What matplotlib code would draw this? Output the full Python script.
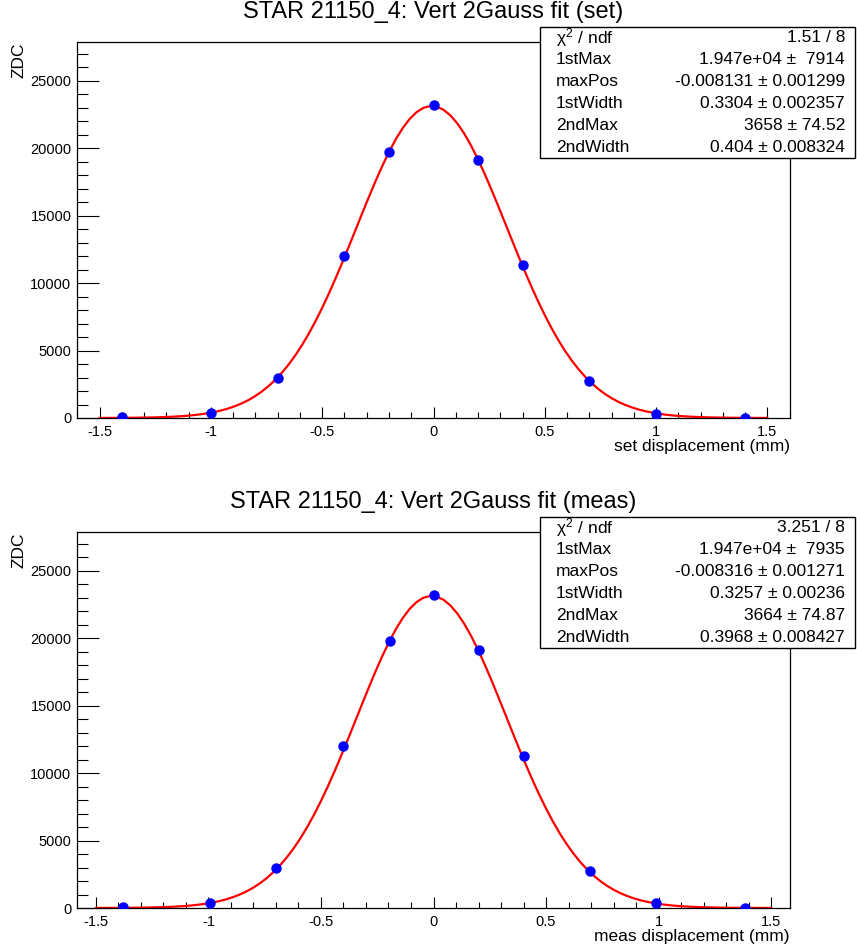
"""
STAR 21150_4 vertical van der Meer scan: double Gaussian fits of the ZDC rate
versus set and measured displacement, drawn in the style of a ROOT canvas.
"""

import numpy as np
import matplotlib

matplotlib.use("Agg")
import matplotlib.pyplot as plt
from matplotlib.patches import Rectangle
from matplotlib.ticker import MultipleLocator

plt.rcParams["font.family"] = ["Liberation Sans", "DejaVu Sans"]
plt.rcParams["mathtext.fontset"] = "custom"
plt.rcParams["mathtext.rm"] = "Liberation Sans"
plt.rcParams["mathtext.it"] = "Liberation Sans"

# data
set_x = [-1.4, -1.0, -0.7, -0.4, -0.2, 0.0, 0.2, 0.4, 0.7, 1.0, 1.4]
set_zdc = [40, 380, 3000, 12000, 19750, 23180, 19150, 11350, 2730, 330, 30]

meas_x = [-1.38, -0.995, -0.70, -0.40, -0.195, 0.0, 0.20, 0.40, 0.695, 0.99, 1.385]
meas_zdc = [40, 380, 2970, 12010, 19800, 23220, 19140, 11280, 2745, 340, 30]

# fit results: 1stMax, maxPos, 1stWidth, 2ndMax, 2ndWidth
par_names = ["1stMax", "maxPos", "1stWidth", "2ndMax", "2ndWidth"]
set_par = [1.947e04, -0.008131, 0.3304, 3658, 0.404]
set_err = [7914, 0.001299, 0.002357, 74.52, 0.008324]
set_chi2 = [1.51, 8]
meas_par = [1.947e04, -0.008316, 0.3257, 3664, 0.3968]
meas_err = [7935, 0.001271, 0.00236, 74.87, 0.008427]
meas_chi2 = [3.251, 8]

W, H = 857, 951


def px(x, y):
    """Pixel position (from top left) to figure fraction."""
    return x / W, 1 - y / H


def two_gauss(x, p):
    """Double Gaussian with a common mean."""
    a1, mu, s1, a2, s2 = p
    return a1 * np.exp(-0.5 * ((x - mu) / s1) ** 2) + a2 * np.exp(-0.5 * ((x - mu) / s2) ** 2)


def stat_box(fig, top, chi2, par, err):
    """ROOT style statistics box."""
    x0, x1 = 540, 855
    bottom = top + 131
    fx, fy = px(x0, bottom)
    fig.patches.append(Rectangle((fx, fy), (x1 - x0) / W, 131 / H, transform=fig.transFigure,
                                 facecolor="white", edgecolor="black", linewidth=1.0, zorder=10))
    rows = [(r"$\chi^2$ / ndf", "%.4g / %d" % (chi2[0], chi2[1]))]
    for name, p, e in zip(par_names, par, err):
        rows.append((name, "%.4g ± %5.4g" % (p, e)))
    step = 131 / 6
    for i, (lab, val) in enumerate(rows):
        yc = top + step * (i + 0.5)
        fig.text(*px(556, yc), lab, ha="left", va="center", fontsize=12.5, zorder=11)
        fig.text(*px(845, yc), val, ha="right", va="center", fontsize=12.5, zorder=11)


def panel(fig, top, xdata, ydata, par, err, chi2, xlim, title, xlabel):
    """Draw one graph with its fit."""
    left, bottom = px(77, top + 376)
    ax = fig.add_axes([left, bottom, 713 / W, 376 / H])
    xs = np.linspace(-1.5, 1.5, 100)
    ax.plot(xs, two_gauss(xs, par), color="red", linewidth=1.6, zorder=2)
    ax.plot(xdata, ydata, "o", color="blue", markersize=6.5, zorder=3)
    ax.set_xlim(*xlim)
    ax.set_ylim(0, 27870)
    ax.xaxis.set_major_locator(MultipleLocator(0.5))
    ax.xaxis.set_minor_locator(MultipleLocator(0.1))
    ax.yaxis.set_major_locator(MultipleLocator(5000))
    ax.yaxis.set_minor_locator(MultipleLocator(1000))
    ax.xaxis.set_major_formatter(plt.FuncFormatter(lambda v, _: "%g" % round(v, 2)))
    ax.yaxis.set_major_formatter(plt.FuncFormatter(lambda v, _: "%d" % v))
    ax.tick_params(axis="x", which="major", direction="in", length=8, width=0.8, labelsize=10.5, pad=5)
    ax.tick_params(axis="x", which="minor", direction="in", length=4, width=0.8)
    ax.tick_params(axis="y", which="major", direction="in", length=16, width=0.8, labelsize=10.5, pad=4)
    ax.tick_params(axis="y", which="minor", direction="in", length=8, width=0.8)
    for s in ax.spines.values():
        s.set_linewidth(0.9)
    ax.text(1.0, -29 / 376, xlabel, transform=ax.transAxes, ha="right", va="center", fontsize=12.5)
    ax.text(-58 / 713, 1.0, "ZDC", transform=ax.transAxes, ha="center", va="top",
            rotation=90, fontsize=12.5)
    fig.text(*px(433, top - 30), title, ha="center", va="center", fontsize=17)
    stat_box(fig, top - 15, chi2, par, err)
    return ax


def main():
    fig = plt.figure(figsize=(W / 100, H / 100), dpi=100)
    panel(fig, 42, set_x, set_zdc, set_par, set_err, set_chi2, (-1.602, 1.602),
          "STAR 21150_4: Vert 2Gauss fit (set)", "set displacement (mm)")
    panel(fig, 532, meas_x, meas_zdc, meas_par, meas_err, meas_chi2, (-1.584, 1.584),
          "STAR 21150_4: Vert 2Gauss fit (meas)", "meas displacement (mm)")
    fig.savefig("out.png", dpi=100)


if __name__ == "__main__":
    main()
